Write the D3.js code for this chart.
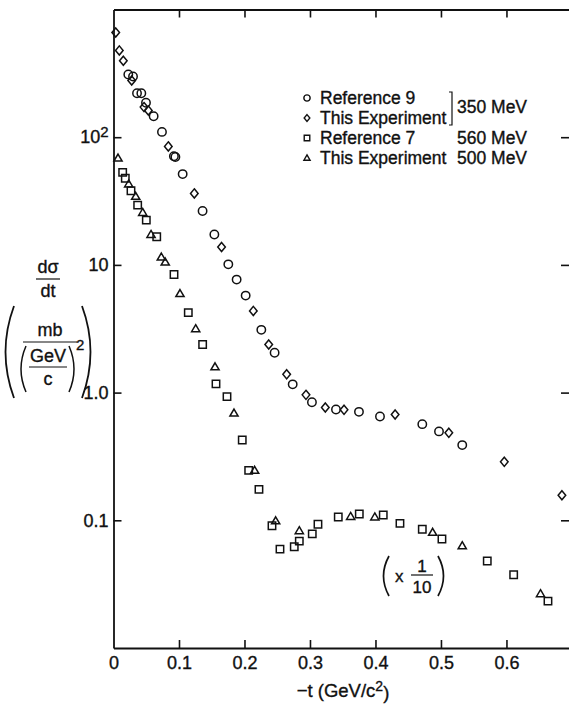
<!DOCTYPE html>
<html>
<head>
<meta charset="utf-8">
<script src="https://cdn.jsdelivr.net/npm/d3@7"></script>
<style>
  body { margin: 0; background: #fff; }
  text { font-family: "Liberation Sans", Arial, Helvetica, sans-serif; fill: #111; stroke: #111; stroke-width: 0.35px; }
</style>
</head>
<body>
<svg id="chart" width="569" height="705"></svg>
<script>
// dσ/dt (mb/(GeV/c)^2) versus -t (GeV/c^2)
// 350 MeV data: Reference 9 (circles) and this experiment (diamonds)
const ref9_350 = [
  [0.0226, 310], [0.0298, 299], [0.0359, 221], [0.0425, 221], [0.0496, 186],
  [0.0613, 146], [0.074, 110], [0.0922, 71], [0.0945, 70], [0.1056, 51.4],
  [0.136, 26.4], [0.154, 17.3], [0.1753, 10.1], [0.188, 7.67], [0.2018, 5.75],
  [0.2257, 3.1], [0.246, 2.05], [0.2736, 1.16], [0.303, 0.84], [0.3397, 0.738],
  [0.3748, 0.707], [0.4069, 0.65], [0.4715, 0.566], [0.497, 0.497], [0.5325, 0.388]
];
const thisExp_350 = [
  [0.0034, 660], [0.0089, 478], [0.015, 397], [0.0278, 278], [0.0466, 172],
  [0.0532, 162], [0.0837, 84.7], [0.1234, 36.3], [0.165, 13.8], [0.2135, 4.36],
  [0.237, 2.38], [0.2644, 1.39], [0.2939, 0.96], [0.3234, 0.764], [0.352, 0.733],
  [0.430, 0.674], [0.512, 0.484], [0.5967, 0.287], [0.6847, 0.157]
];
// 560 MeV (Reference 7, squares) and 500 MeV (this experiment, triangles), scaled by 1/10
const ref7_560 = [
  [0.014, 53], [0.018, 47.7], [0.0267, 38.1], [0.0369, 29.4], [0.0501, 22.4],
  [0.066, 16.6], [0.0924, 8.4], [0.1142, 4.23], [0.1361, 2.38], [0.1565, 1.17],
  [0.1733, 0.93], [0.1966, 0.425], [0.2064, 0.246], [0.2221, 0.1746], [0.242, 0.0906],
  [0.2542, 0.0595], [0.276, 0.062], [0.2837, 0.0687], [0.3035, 0.0783], [0.3122, 0.093],
  [0.3432, 0.106], [0.3753, 0.112], [0.4119, 0.11], [0.4374, 0.0946], [0.4715, 0.085],
  [0.5015, 0.0713], [0.5707, 0.048], [0.611, 0.0375], [0.6634, 0.0233]
];
const thisExp_500 = [
  [0.0069, 68.5], [0.0232, 43], [0.0339, 34.4], [0.0446, 25.7], [0.0573, 17.3],
  [0.073, 11.5], [0.079, 10.5], [0.1015, 5.96], [0.1255, 3.16], [0.155, 1.59],
  [0.184, 0.69], [0.2155, 0.246], [0.2476, 0.099], [0.2837, 0.0828], [0.3621, 0.107],
  [0.399, 0.106], [0.4873, 0.0804], [0.5325, 0.0631], [0.652, 0.0266]
];

const xTicks = [0, 0.1, 0.2, 0.3, 0.4, 0.5, 0.6];
const xTickLabels = ["0", "0.1", "0.2", "0.3", "0.4", "0.5", "0.6"];
const yTicks = [100, 10, 1, 0.1];
const yTickLabels = ["10", "10", "1.0", "0.1"];
const yTickSup = ["2", "", "", ""];

const legendLabels = ["Reference 9", "This Experiment", "Reference 7", "This Experiment"];
const energyLabels = ["350 MeV", "560 MeV", "500 MeV"];

const svg = d3.select("#chart");
const plotLeft = 113.5, plotRight = 569, plotTop = 9.5, plotBottom = 648;

const x = d3.scaleLinear().domain([0, 0.6955]).range([plotLeft, plotRight]);
const y = d3.scaleLog().domain([0.01, 1000]).range([plotBottom, plotTop]);

// marker outlines, s = half-extent
const shapes = {
  circle: s => `M${s},0A${s},${s} 0 1,1 ${-s},0A${s},${s} 0 1,1 ${s},0Z`,
  square: s => `M${-s},${-s}H${s}V${s}H${-s}Z`,
  diamond: s => `M0,${-s * 1.2}L${s},0L0,${s * 1.2}L${-s},0Z`,
  triangle: s => `M0,${-s * 1.05}L${s * 1.05},${s * 0.75}L${-s * 1.05},${s * 0.75}Z`
};

const series = [
  { data: ref9_350, shape: "circle", size: 4.2 },
  { data: thisExp_350, shape: "diamond", size: 3.8 },
  { data: ref7_560, shape: "square", size: 3.7 },
  { data: thisExp_500, shape: "triangle", size: 3.9 }
];

// axes
const axisStyle = g => {
  g.attr("font-family", null).attr("font-size", null);
  g.selectAll("path.domain").attr("stroke", "#111").attr("stroke-width", 1.8);
  g.selectAll(".tick line").attr("stroke", "#111").attr("stroke-width", 1.6);
  g.selectAll(".tick text").attr("font-size", 18).attr("fill", "#111");
};

svg.append("g")
  .attr("transform", `translate(0,${plotBottom})`)
  .call(d3.axisBottom(x).tickValues(xTicks).tickSizeInner(-8).tickSizeOuter(0)
    .tickPadding(8).tickFormat((d, i) => xTickLabels[i]))
  .call(axisStyle)
  .call(g => g.selectAll(".tick").filter(d => d === 0).select("line").remove());

svg.append("g")
  .attr("transform", `translate(0,${plotTop})`)
  .call(d3.axisTop(x).tickValues(xTicks.slice(1)).tickSizeInner(-8).tickSizeOuter(0).tickFormat(""))
  .call(axisStyle);

const yAxis = svg.append("g")
  .attr("transform", `translate(${plotLeft},0)`)
  .call(d3.axisLeft(y).tickValues(yTicks).tickSizeInner(-8).tickSizeOuter(0)
    .tickPadding(5).tickFormat((d, i) => yTickLabels[i]))
  .call(axisStyle);
yAxis.selectAll(".tick text").each(function (d, i) {
  if (yTickSup[i]) {
    const t = d3.select(this);
    t.text(yTickLabels[i]);
    t.append("tspan").attr("dy", "-0.45em").attr("font-size", 15).text(yTickSup[i]);
  }
});

svg.append("g")
  .attr("transform", `translate(${plotRight},0)`)
  .call(d3.axisRight(y).tickValues(yTicks).tickSizeInner(-8).tickSizeOuter(0).tickFormat(""))
  .call(axisStyle)
  .call(g => g.select("path.domain").remove());

// data markers
const plot = svg.append("g");
series.forEach(s => {
  plot.append("g").selectAll("path")
    .data(s.data)
    .join("path")
    .attr("transform", d => `translate(${x(d[0])},${y(d[1])})`)
    .attr("d", shapes[s.shape](s.size))
    .attr("fill", "none")
    .attr("stroke", "#111")
    .attr("stroke-width", 1.5);
});

// legend
const legend = svg.append("g").attr("transform", "translate(307,0)");
const legendRows = [98, 118, 138, 158];
const legendSize = 17.5;
series.forEach((s, i) => {
  legend.append("path")
    .attr("transform", `translate(0,${legendRows[i]})`)
    .attr("d", shapes[s.shape](s.size * 0.75))
    .attr("fill", "none").attr("stroke", "#111").attr("stroke-width", 1.4);
  legend.append("text")
    .attr("x", 13).attr("y", legendRows[i])
    .attr("dy", "0.35em").attr("font-size", legendSize)
    .text(legendLabels[i]);
});
// bracket joining the two 350 MeV rows
legend.append("path")
  .attr("d", "M142,92 H145 V125 H142")
  .attr("fill", "none").attr("stroke", "#111").attr("stroke-width", 1.2);
legend.append("text").attr("x", 150).attr("y", 107).attr("dy", "0.35em")
  .attr("font-size", legendSize).text(energyLabels[0]);
legend.append("text").attr("x", 150).attr("y", legendRows[2]).attr("dy", "0.35em")
  .attr("font-size", legendSize).text(energyLabels[1]);
legend.append("text").attr("x", 150).attr("y", legendRows[3]).attr("dy", "0.35em")
  .attr("font-size", legendSize).text(energyLabels[2]);

// scale note for the lower data set
const note = svg.append("g").attr("transform", "translate(412,576)");
note.append("path").attr("d", "M-23,-20 Q-34,0 -23,20").attr("fill", "none").attr("stroke", "#111").attr("stroke-width", 1.7);
note.append("path").attr("d", "M26,-20 Q37,0 26,20").attr("fill", "none").attr("stroke", "#111").attr("stroke-width", 1.7);
note.append("text").attr("x", -17).attr("y", 0).attr("dy", "0.35em").attr("font-size", 17).text("x");
note.append("text").attr("x", 10).attr("y", -10).attr("dy", "0.35em").attr("font-size", 17).attr("text-anchor", "middle").text("1");
note.append("line").attr("x1", -1).attr("x2", 21).attr("y1", -1).attr("y2", -1).attr("stroke", "#111").attr("stroke-width", 1.2);
note.append("text").attr("x", 10).attr("y", 11).attr("dy", "0.35em").attr("font-size", 17).attr("text-anchor", "middle").text("10");

// y-axis title: dσ/dt (mb/(GeV/c)^2)
const yt = svg.append("g").attr("transform", "translate(48,0)");
yt.append("text").attr("x", 0).attr("y", 267).attr("dy", "0.35em").attr("font-size", 18).attr("text-anchor", "middle").text("dσ");
yt.append("line").attr("x1", -12).attr("x2", 12).attr("y1", 279).attr("y2", 279).attr("stroke", "#111").attr("stroke-width", 1.2);
yt.append("text").attr("x", 0).attr("y", 291).attr("dy", "0.35em").attr("font-size", 18).attr("text-anchor", "middle").text("dt");

yt.append("path").attr("d", "M-34,306 Q-51,352 -34,398").attr("fill", "none").attr("stroke", "#111").attr("stroke-width", 1.8);
yt.append("path").attr("d", "M34,306 Q51,352 34,398").attr("fill", "none").attr("stroke", "#111").attr("stroke-width", 1.8);
yt.append("text").attr("x", 2).attr("y", 330).attr("dy", "0.35em").attr("font-size", 18).attr("text-anchor", "middle").text("mb");
yt.append("line").attr("x1", -25).attr("x2", 29).attr("y1", 342).attr("y2", 342).attr("stroke", "#111").attr("stroke-width", 1.2);
yt.append("path").attr("d", "M-22,346 Q-32,369 -22,392").attr("fill", "none").attr("stroke", "#111").attr("stroke-width", 1.5);
yt.append("path").attr("d", "M21,346 Q31,369 21,392").attr("fill", "none").attr("stroke", "#111").attr("stroke-width", 1.5);
yt.append("text").attr("x", 0).attr("y", 356).attr("dy", "0.35em").attr("font-size", 18).attr("text-anchor", "middle").text("GeV");
yt.append("line").attr("x1", -19).attr("x2", 19).attr("y1", 367).attr("y2", 367).attr("stroke", "#111").attr("stroke-width", 1.2);
yt.append("text").attr("x", 0).attr("y", 379).attr("dy", "0.35em").attr("font-size", 18).attr("text-anchor", "middle").text("c");
yt.append("text").attr("x", 28).attr("y", 345).attr("dy", "0.35em").attr("font-size", 15).text("2");

// x-axis title
const xt = svg.append("text").attr("x", 343).attr("y", 697).attr("font-size", 18.5).attr("text-anchor", "middle");
xt.append("tspan").text("−t (GeV/c");
xt.append("tspan").attr("dy", "-0.45em").attr("font-size", 14).text("2");
xt.append("tspan").attr("dy", "0.45em").text(")");
</script>
</body>
</html>
